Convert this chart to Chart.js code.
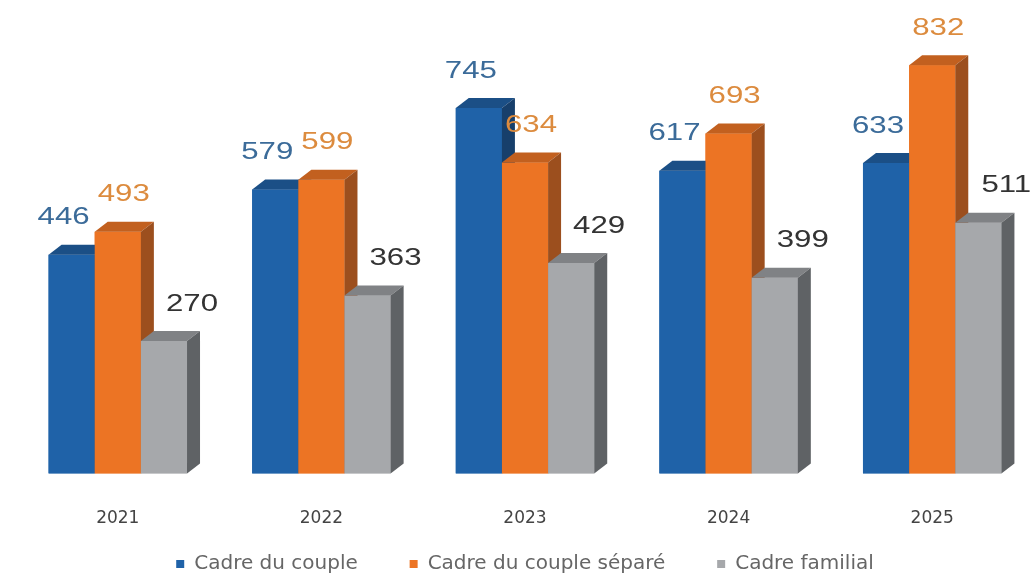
<!DOCTYPE html>
<html>
<head>
<meta charset="utf-8">
<script src="https://cdn.jsdelivr.net/npm/chart.js@4.4.1/dist/chart.umd.min.js"></script>
<style>
  html, body { margin: 0; padding: 0; background: #fff; }
  #wrap { width: 1034px; height: 576px; }
</style>
</head>
<body>
<div id="wrap"><canvas id="chart"></canvas></div>
<script>
const years = ['2021', '2022', '2023', '2024', '2025'];
const cadreCouple = [446, 579, 745, 617, 633];
const cadreCoupleSepare = [493, 599, 634, 693, 832];
const cadreFamilial = [270, 363, 429, 399, 511];

// depth of the fake 3D faces
const DX = 13, DY = 10;
const GAP = '\u00a0'.repeat(8);

// redraw bars left to right so each bar covers the side face of the one before it
const bars3d = {
    id: 'bars3d',
    afterDatasetsDraw(chart) {
        const ctx = chart.ctx;
        ctx.save();
        chart.data.datasets.forEach((ds, i) => {
            chart.getDatasetMeta(i).data.forEach(bar => {
                bar.draw(ctx);
                const { x, y, base, width } = bar.getProps(['x', 'y', 'base', 'width'], true);
                const l = x - width / 2, r = x + width / 2;
                ctx.fillStyle = ds.topColor;
                ctx.beginPath();
                ctx.moveTo(l, y);
                ctx.lineTo(l + DX, y - DY);
                ctx.lineTo(r + DX, y - DY);
                ctx.lineTo(r, y);
                ctx.closePath();
                ctx.fill();
                ctx.fillStyle = ds.sideColor;
                ctx.beginPath();
                ctx.moveTo(r, y);
                ctx.lineTo(r + DX, y - DY);
                ctx.lineTo(r + DX, base - DY);
                ctx.lineTo(r, base);
                ctx.closePath();
                ctx.fill();
            });
        });

        // value labels, stretched a bit wider like the original
        ctx.font = '24px "Liberation Sans", Arial, sans-serif';
        ctx.textAlign = 'center';
        ctx.textBaseline = 'middle';
        chart.data.datasets.forEach((ds, i) => {
            chart.getDatasetMeta(i).data.forEach((bar, j) => {
                ctx.save();
                ctx.translate(bar.x + ds.labelShift, bar.y - 37);
                ctx.scale(1.3, 1);
                ctx.fillStyle = ds.labelColor;
                ctx.fillText(ds.data[j], 0, 0);
                ctx.restore();
            });
        });
        ctx.restore();
    }
};

new Chart(document.getElementById('chart'), {
    type: 'bar',
    data: {
        labels: years,
        datasets: [
            {
                label: 'Cadre du couple' + GAP,
                data: cadreCouple,
                backgroundColor: '#1f62a8',
                topColor: '#1b4f86',
                sideColor: '#173f6b',
                labelColor: '#3b6b99',
                labelShift: -8
            },
            {
                label: 'Cadre du couple séparé' + GAP,
                data: cadreCoupleSepare,
                backgroundColor: '#ec7424',
                topColor: '#c2601f',
                sideColor: '#9c4f1e',
                labelColor: '#dc8b3e',
                labelShift: 6
            },
            {
                label: 'Cadre familial',
                data: cadreFamilial,
                backgroundColor: '#a6a8ab',
                topColor: '#808285',
                sideColor: '#5f6265',
                labelColor: '#333333',
                labelShift: 28
            }
        ]
    },
    options: {
        responsive: true,
        maintainAspectRatio: false,
        animation: false,
        categoryPercentage: 0.68,
        barPercentage: 1.0,
        layout: { padding: { top: 32, left: 16, right: 0, bottom: -8 } },
        scales: {
            x: {
                grid: { display: false },
                border: { display: false },
                afterFit: scale => { scale.height -= 3; },
                ticks: {
                    padding: 27,
                    color: '#444',
                    font: { size: 17, family: '"DejaVu Sans", sans-serif' }
                }
            },
            y: { display: false, min: 0, max: 900 }
        },
        plugins: {
            legend: {
                position: 'bottom',
                labels: {
                    usePointStyle: true,
                    pointStyle: 'rect',
                    boxWidth: 8,
                    boxHeight: 8,
                    padding: 1,
                    color: '#666',
                    font: { size: 20, family: '"DejaVu Sans", sans-serif' }
                }
            },
            tooltip: { enabled: false }
        }
    },
    plugins: [bars3d]
});
</script>
</body>
</html>
